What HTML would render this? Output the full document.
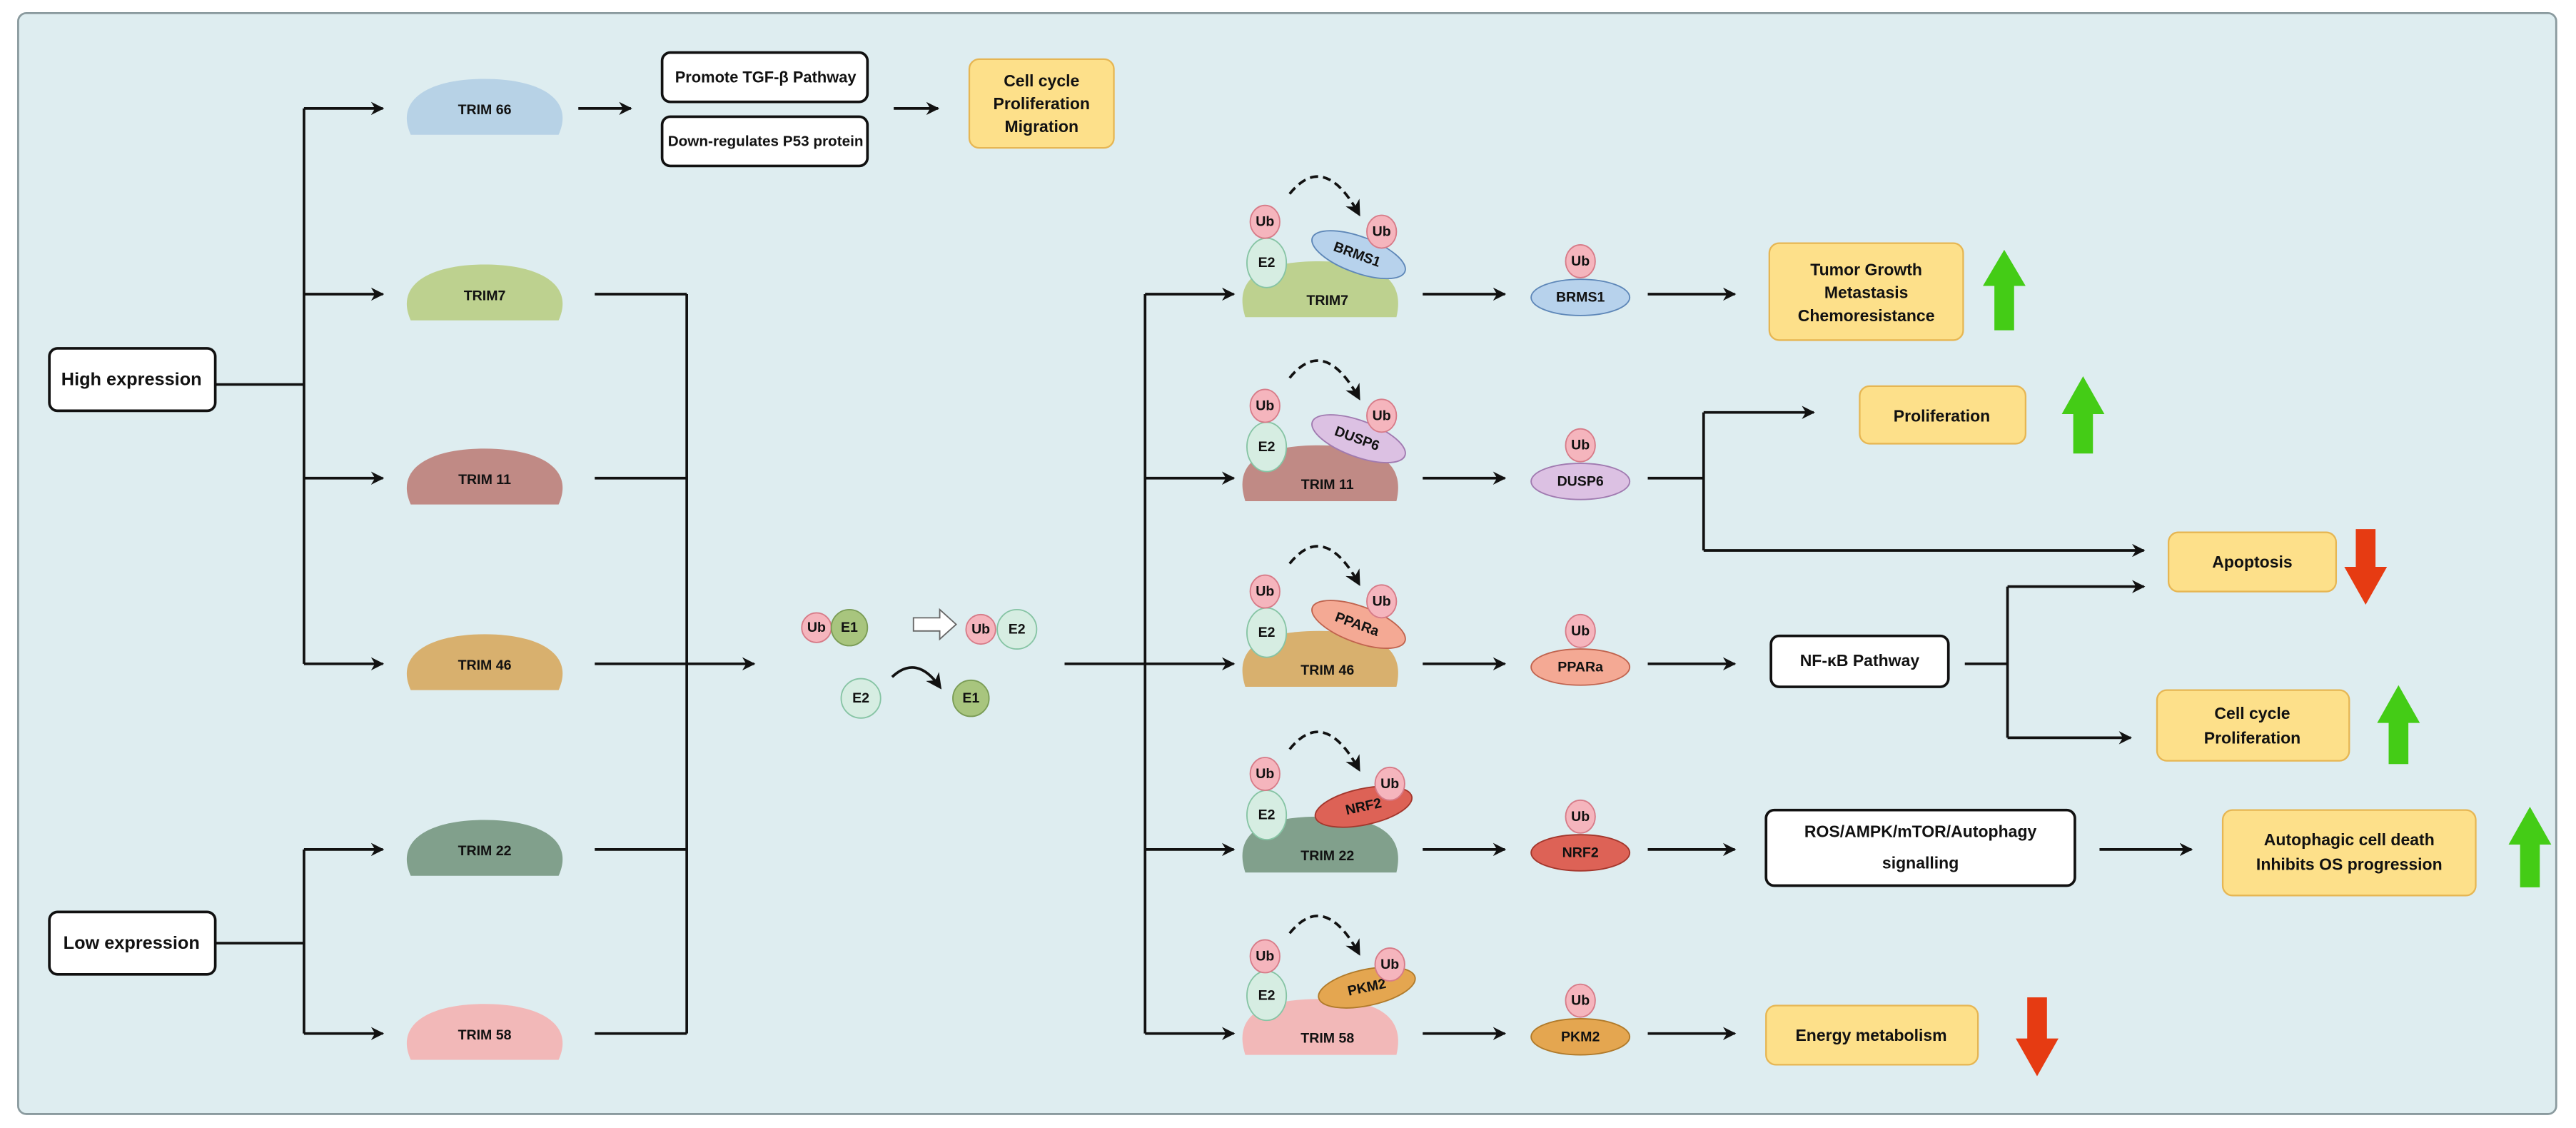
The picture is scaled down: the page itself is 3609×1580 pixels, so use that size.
<!DOCTYPE html>
<html><head><meta charset="utf-8"><style>
html,body{margin:0;padding:0;background:#fff;}
svg{display:block;}
text{font-family:"Liberation Sans",sans-serif;font-weight:bold;fill:#111;text-anchor:middle;dominant-baseline:central;}
</style></head><body>
<svg width="3609" height="1580" viewBox="0 0 1568 686.5" xmlns="http://www.w3.org/2000/svg">
<defs>
<marker id="a" viewBox="0 0 10 10" refX="9" refY="5" markerWidth="5" markerHeight="5" orient="auto"><path d="M0,0 L10,5 L0,10 L3,5 Z" fill="#111"/></marker>
<marker id="h" viewBox="0 0 10 10" refX="8" refY="5" markerWidth="6" markerHeight="6" orient="auto"><path d="M0,0 L10,5 L0,10 L3,5 Z" fill="#111"/></marker>
</defs>
<rect x="11" y="8" width="1545" height="670" rx="5" fill="#deedf0" stroke="#8a9a9e" stroke-width="1.2"/>

<g stroke="#111" stroke-width="1.6" fill="none">
<path d="M131,234 H185 M185,66 V404 M131,574 H185 M185,517 V629"/>
<path d="M362,179 H418 M362,291 H418 M362,404 H418 M362,517 H418 M362,629 H418 M418,179 V629"/>
<path d="M648,404 H697 M697,179 V629"/>
<path d="M1003,291 H1037 M1037,251 V335"/>
<path d="M1196,404 H1222 M1222,357 V449"/>
</g>
<g stroke="#111" stroke-width="1.6" fill="none" marker-end="url(#a)">
<path d="M185,66 H233"/><path d="M185,179 H233"/><path d="M185,291 H233"/><path d="M185,404 H233"/><path d="M185,517 H233"/><path d="M185,629 H233"/>
<path d="M352,66 H384"/><path d="M544,66 H571"/>
<path d="M418,404 H459"/>
<path d="M697,179 H751"/><path d="M697,291 H751"/><path d="M697,404 H751"/><path d="M697,517 H751"/><path d="M697,629 H751"/>
<path d="M866,179 H916"/><path d="M866,291 H916"/><path d="M866,404 H916"/><path d="M866,517 H916"/><path d="M866,629 H916"/>
<path d="M1003,179 H1056"/><path d="M1003,404 H1056"/><path d="M1003,517 H1056"/><path d="M1003,629 H1056"/><path d="M1278,517 H1334"/>
<path d="M1037,251 H1104"/><path d="M1037,335 H1305"/>
<path d="M1222,357 H1305"/><path d="M1222,449 H1297"/>
</g>
<g stroke="#111" stroke-width="1.6" fill="none" marker-end="url(#h)">
<path d="M543,412 Q558,398 572,418"/>
<g stroke-dasharray="5,3">
<path d="M785,118 Q806,92 827,130"/><path d="M785,230 Q806,204 827,242"/><path d="M785,343 Q806,317 827,355"/><path d="M785,456 Q806,430 827,468"/><path d="M785,568 Q806,542 827,580"/>
</g>
</g>

<g stroke="#111" stroke-width="1.6" fill="#fff">
<rect x="30" y="212" width="101" height="38" rx="5"/>
<rect x="30" y="555" width="101" height="38" rx="5"/>
<rect x="403" y="32" width="125" height="30" rx="5"/>
<rect x="403" y="71" width="125" height="30" rx="5"/>
<rect x="1078" y="387" width="108" height="31" rx="5"/>
<rect x="1075" y="493" width="188" height="46" rx="5"/>
</g>
<g stroke="#e6b653" stroke-width="1" fill="#fde08a">
<rect x="590" y="36" width="88" height="54" rx="6"/>
<rect x="1077" y="148" width="118" height="59" rx="6"/>
<rect x="1132" y="235" width="101" height="35" rx="6"/>
<rect x="1320" y="324" width="102" height="36" rx="6"/>
<rect x="1313" y="420" width="117" height="43" rx="6"/>
<rect x="1353" y="493" width="154" height="52" rx="6"/>
<rect x="1075" y="612" width="129" height="36" rx="6"/>
</g>
<g font-size="11">
<text x="80" y="231">High expression</text>
<text x="80" y="574">Low expression</text>
<text x="466" y="47" font-size="9.5">Promote TGF-β Pathway</text>
<text x="466" y="86" font-size="9">Down-regulates P53 protein</text>
<text x="1132" y="402" font-size="10">NF-κB Pathway</text>
<text x="1169" y="506" font-size="10">ROS/AMPK/mTOR/Autophagy</text>
<text x="1169" y="525" font-size="10">signalling</text>
<g font-size="10">
<text x="634" y="49">Cell cycle</text><text x="634" y="63">Proliferation</text><text x="634" y="77">Migration</text>
<text x="1136" y="164">Tumor Growth</text><text x="1136" y="178">Metastasis</text><text x="1136" y="192">Chemoresistance</text>
<text x="1182" y="253">Proliferation</text>
<text x="1371" y="342">Apoptosis</text>
<text x="1371" y="434">Cell cycle</text><text x="1371" y="449">Proliferation</text>
<text x="1430" y="511">Autophagic cell death</text><text x="1430" y="526">Inhibits OS progression</text>
<text x="1139" y="630">Energy metabolism</text>
</g>
</g>

<g fill="#44cc16">
<path d="M1220,152 L1233,174 L1226,174 L1226,201 L1214,201 L1214,174 L1207,174 Z"/>
<path d="M1268,229 L1281,252 L1274,252 L1274,276 L1262,276 L1262,252 L1255,252 Z"/>
<path d="M1460,417 L1473,440 L1466,440 L1466,465 L1454,465 L1454,440 L1447,440 Z"/>
<path d="M1540,491 L1553,514 L1546,514 L1546,540 L1534,540 L1534,514 L1527,514 Z"/>
</g>
<g fill="#e63b12">
<path d="M1434,322 L1446,322 L1446,345 L1453,345 L1440,368 L1427,345 L1434,345 Z"/>
<path d="M1234,607 L1246,607 L1246,632 L1253,632 L1240,655 L1227,632 L1234,632 Z"/>
</g>

<g font-size="8.5">
<path d="M250,82 C240,60 262,48 295,48 C328,48 350,60 340,82 Z" fill="#b7d2e6"/><text x="295" y="67">TRIM 66</text>
<path d="M250,195 C240,173 262,161 295,161 C328,161 350,173 340,195 Z" fill="#bdd18f"/><text x="295" y="180">TRIM7</text>
<path d="M250,307 C240,285 262,273 295,273 C328,273 350,285 340,307 Z" fill="#c08a85"/><text x="295" y="292">TRIM 11</text>
<path d="M250,420 C240,398 262,386 295,386 C328,386 350,398 340,420 Z" fill="#d8b06e"/><text x="295" y="405">TRIM 46</text>
<path d="M250,533 C240,511 262,499 295,499 C328,499 350,511 340,533 Z" fill="#81a08c"/><text x="295" y="518">TRIM 22</text>
<path d="M250,645 C240,623 262,611 295,611 C328,611 350,623 340,645 Z" fill="#f2b8b8"/><text x="295" y="630">TRIM 58</text>
</g>

<g font-size="8.5" stroke-width="0.8">
<circle cx="497" cy="382" r="9" fill="#f5b5bd" stroke="#d77b88"/><text x="497" y="382">Ub</text>
<circle cx="517" cy="382" r="11" fill="#a8c57e" stroke="#7a9c55"/><text x="517" y="382">E1</text>
<path d="M556,376 H572 V371 L582,380 L572,389 V384 H556 Z" fill="#fff" stroke="#666"/>
<circle cx="597" cy="383" r="9" fill="#f5b5bd" stroke="#d77b88"/><text x="597" y="383">Ub</text>
<circle cx="619" cy="383" r="12" fill="#d6ede2" stroke="#86c4a4"/><text x="619" y="383">E2</text>
<circle cx="524" cy="425" r="12" fill="#d6ede2" stroke="#86c4a4"/><text x="524" y="425">E2</text>
<circle cx="591" cy="425" r="11" fill="#a8c57e" stroke="#7a9c55"/><text x="591" y="425">E1</text>
</g>

<g font-size="8.5" stroke-width="0.8">
<path d="M758,193 C750,168 770,159 803,159 C836,159 856,168 850,193 Z" fill="#bdd18f"/><text x="808" y="183">TRIM7</text>
<ellipse cx="771" cy="160" rx="12" ry="15" fill="#d6ede2" stroke="#86c4a4"/><text x="771" y="160">E2</text>
<ellipse cx="827" cy="155" rx="30" ry="11" transform="rotate(20 827 155)" fill="#b7d2ec" stroke="#5e87b8"/><text x="826" y="155" transform="rotate(20 826 155)">BRMS1</text>
<ellipse cx="770" cy="135" rx="9" ry="10" fill="#f5b5bd" stroke="#d77b88"/><text x="770" y="135">Ub</text>
<ellipse cx="841" cy="141" rx="9" ry="10" fill="#f5b5bd" stroke="#d77b88"/><text x="841" y="141">Ub</text>
<ellipse cx="962" cy="181" rx="30" ry="11" fill="#b7d2ec" stroke="#5e87b8"/><text x="962" y="181">BRMS1</text>
<ellipse cx="962" cy="159" rx="9" ry="10" fill="#f5b5bd" stroke="#d77b88"/><text x="962" y="159">Ub</text>

<path d="M758,305 C750,280 770,271 803,271 C836,271 856,280 850,305 Z" fill="#c08a85"/><text x="808" y="295">TRIM 11</text>
<ellipse cx="771" cy="272" rx="12" ry="15" fill="#d6ede2" stroke="#86c4a4"/><text x="771" y="272">E2</text>
<ellipse cx="827" cy="267" rx="30" ry="11" transform="rotate(20 827 267)" fill="#dcc1e3" stroke="#a07ab0"/><text x="826" y="267" transform="rotate(20 826 267)">DUSP6</text>
<ellipse cx="770" cy="247" rx="9" ry="10" fill="#f5b5bd" stroke="#d77b88"/><text x="770" y="247">Ub</text>
<ellipse cx="841" cy="253" rx="9" ry="10" fill="#f5b5bd" stroke="#d77b88"/><text x="841" y="253">Ub</text>
<ellipse cx="962" cy="293" rx="30" ry="11" fill="#dcc1e3" stroke="#a07ab0"/><text x="962" y="293">DUSP6</text>
<ellipse cx="962" cy="271" rx="9" ry="10" fill="#f5b5bd" stroke="#d77b88"/><text x="962" y="271">Ub</text>

<path d="M758,418 C750,393 770,384 803,384 C836,384 856,393 850,418 Z" fill="#d8b06e"/><text x="808" y="408">TRIM 46</text>
<ellipse cx="771" cy="385" rx="12" ry="15" fill="#d6ede2" stroke="#86c4a4"/><text x="771" y="385">E2</text>
<ellipse cx="827" cy="380" rx="30" ry="11" transform="rotate(20 827 380)" fill="#f4a994" stroke="#c0634e"/><text x="826" y="380" transform="rotate(20 826 380)">PPARa</text>
<ellipse cx="770" cy="360" rx="9" ry="10" fill="#f5b5bd" stroke="#d77b88"/><text x="770" y="360">Ub</text>
<ellipse cx="841" cy="366" rx="9" ry="10" fill="#f5b5bd" stroke="#d77b88"/><text x="841" y="366">Ub</text>
<ellipse cx="962" cy="406" rx="30" ry="11" fill="#f4a994" stroke="#c0634e"/><text x="962" y="406">PPARa</text>
<ellipse cx="962" cy="384" rx="9" ry="10" fill="#f5b5bd" stroke="#d77b88"/><text x="962" y="384">Ub</text>

<path d="M758,531 C750,506 770,497 803,497 C836,497 856,506 850,531 Z" fill="#81a08c"/><text x="808" y="521">TRIM 22</text>
<ellipse cx="771" cy="496" rx="12" ry="15" fill="#d6ede2" stroke="#86c4a4"/><text x="771" y="496">E2</text>
<ellipse cx="830" cy="491" rx="30" ry="11" transform="rotate(-12 830 491)" fill="#dd6256" stroke="#a3372d"/><text x="830" y="491" transform="rotate(-12 830 491)">NRF2</text>
<ellipse cx="770" cy="471" rx="9" ry="10" fill="#f5b5bd" stroke="#d77b88"/><text x="770" y="471">Ub</text>
<ellipse cx="846" cy="477" rx="9" ry="10" fill="#f5b5bd" stroke="#d77b88"/><text x="846" y="477">Ub</text>
<ellipse cx="962" cy="519" rx="30" ry="11" fill="#dd6256" stroke="#a3372d"/><text x="962" y="519">NRF2</text>
<ellipse cx="962" cy="497" rx="9" ry="10" fill="#f5b5bd" stroke="#d77b88"/><text x="962" y="497">Ub</text>

<path d="M758,642 C750,617 770,608 803,608 C836,608 856,617 850,642 Z" fill="#f2b8b8"/><text x="808" y="632">TRIM 58</text>
<ellipse cx="771" cy="606" rx="12" ry="15" fill="#d6ede2" stroke="#86c4a4"/><text x="771" y="606">E2</text>
<ellipse cx="832" cy="601" rx="30" ry="11" transform="rotate(-12 832 601)" fill="#e4a650" stroke="#b07a2a"/><text x="832" y="601" transform="rotate(-12 832 601)">PKM2</text>
<ellipse cx="770" cy="582" rx="9" ry="10" fill="#f5b5bd" stroke="#d77b88"/><text x="770" y="582">Ub</text>
<ellipse cx="846" cy="587" rx="9" ry="10" fill="#f5b5bd" stroke="#d77b88"/><text x="846" y="587">Ub</text>
<ellipse cx="962" cy="631" rx="30" ry="11" fill="#e4a650" stroke="#b07a2a"/><text x="962" y="631">PKM2</text>
<ellipse cx="962" cy="609" rx="9" ry="10" fill="#f5b5bd" stroke="#d77b88"/><text x="962" y="609">Ub</text>
</g>
</svg>
</body></html>
